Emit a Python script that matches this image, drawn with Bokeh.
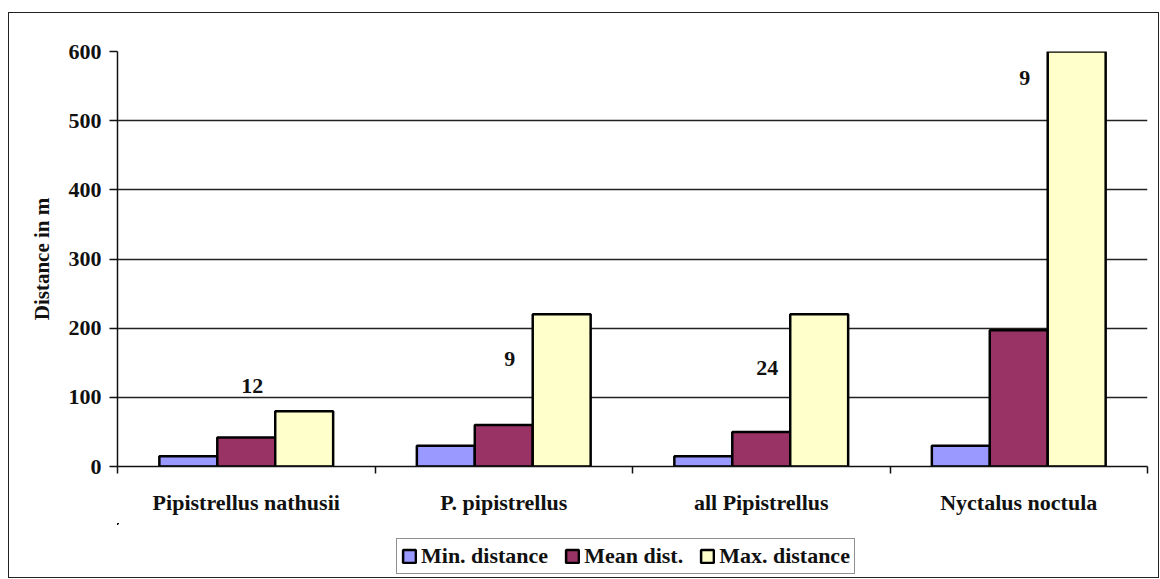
from bokeh.plotting import figure
from bokeh.layouts import column
from bokeh.models import ColumnDataSource, FixedTicker, Legend, LegendItem
from bokeh.core.properties import value
from bokeh.embed import file_html
from bokeh.resources import INLINE

categories = ["Pipistrellus nathusii", "P. pipistrellus", "all Pipistrellus", "Nyctalus noctula"]
series_names = ["Min. distance", "Mean dist.", "Max. distance"]
min_dist = [15, 30, 15, 30]
mean_dist = [42, 60, 50, 197]
max_dist = [80, 220, 220, 600]
n_labels = ["12", "9", "24", "9"]
n_label_y = [117, 155, 142, 562]
y_ticks = [0, 100, 200, 300, 400, 500, 600]
colors = ["#9999FF", "#993366", "#FFFFCC"]

FONT = "Liberation Serif"

p = figure(width=1149, height=510, output_backend="svg", toolbar_location=None,
           x_range=(0, len(categories)), y_range=(0, 600),
           min_border_left=108, min_border_top=38, min_border_bottom=57, min_border_right=11)
p.outline_line_color = None
p.background_fill_color = "white"

centers = [i + 0.5 for i in range(len(categories))]
offsets = [-0.225, 0.0, 0.225]
series = [min_dist, mean_dist, max_dist]
sources = []
for vals, off, col in zip(series, offsets, colors):
    src = ColumnDataSource(dict(x=[c + off for c in centers], top=vals))
    sources.append(src)
    p.vbar(x="x", top="top", bottom=0, width=0.225, source=src,
           fill_color=col, line_color="black", line_width=2.5)

lsrc = ColumnDataSource(dict(x=centers, y=n_label_y, t=n_labels))
p.text(x="x", y="y", text="t", source=lsrc, text_align="center", text_baseline="middle",
       x_offset=6, text_font=value(FONT), text_font_style="bold", text_font_size="22px",
       text_color="#111")

# x axis: labels at centers, ticks at boundaries
p.xaxis.ticker = FixedTicker(ticks=centers, minor_ticks=list(range(len(categories) + 1)))
p.xaxis.major_label_overrides = {c: name for c, name in zip(centers, categories)}
p.xaxis.major_tick_out = 0
p.xaxis.major_tick_in = 0
p.xaxis.minor_tick_out = 7
p.xaxis.minor_tick_in = 0
p.xaxis.minor_tick_line_color = "#111"
p.xaxis.minor_tick_line_width = 1.5
p.xaxis.axis_line_color = "#111"
p.xaxis.axis_line_width = 1.5
p.xaxis.major_label_text_font = FONT
p.xaxis.major_label_text_font_style = "bold"
p.xaxis.major_label_text_font_size = "22px"
p.xaxis.major_label_text_color = "#111"
p.xaxis.major_label_standoff = 16

p.yaxis.ticker = FixedTicker(ticks=y_ticks, minor_ticks=[])
p.yaxis.major_tick_out = 8
p.yaxis.major_tick_in = 0
p.yaxis.major_tick_line_color = "#111"
p.yaxis.major_tick_line_width = 1.5
p.yaxis.axis_line_color = "#111"
p.yaxis.axis_line_width = 1.5
p.yaxis.major_label_text_font = FONT
p.yaxis.major_label_text_font_style = "bold"
p.yaxis.major_label_text_font_size = "22px"
p.yaxis.major_label_text_color = "#111"
p.yaxis.major_label_standoff = 8
p.yaxis.axis_label = "Distance in m"
p.yaxis.axis_label_text_font = FONT
p.yaxis.axis_label_text_font_style = "bold"
p.yaxis.axis_label_text_font_size = "21px"
p.yaxis.axis_label_text_color = "#111"
p.yaxis.axis_label_standoff = 12

p.xgrid.grid_line_color = None
p.ygrid.ticker = FixedTicker(ticks=y_ticks)
p.ygrid.grid_line_color = "#222"
p.ygrid.grid_line_width = 1.5

# legend strip below the chart (its bars share the data but lie outside its view)
pl = figure(width=1149, height=54, output_backend="svg", toolbar_location=None,
            x_range=(50, 51), y_range=(-2, -1), min_border=0)
pl.axis.visible = False
pl.axis.axis_line_color = None
pl.axis.major_tick_line_color = None
pl.axis.minor_tick_line_color = None
pl.grid.visible = False
pl.outline_line_color = None
items = []
for name, col, src in zip(series_names, colors, sources):
    r = pl.vbar(x="x", top="top", bottom=0, width=0.225, source=src,
                fill_color=col, line_color="black", line_width=2.5)
    items.append(LegendItem(label=name, renderers=[r]))

legend = Legend(items=items, orientation="horizontal", location=(279, 3),
                glyph_width=16, glyph_height=16, label_standoff=4, spacing=16,
                padding=4, margin=0,
                label_text_font=FONT, label_text_font_style="bold", label_text_font_size="22px",
                label_text_color="#111", label_height=20,
                border_line_color="#222", border_line_width=1.5, background_fill_alpha=1)
pl.add_layout(legend, "center")

layout = column(p, pl, spacing=0, margin=(12, 0, 0, 8),
                styles={"border": "1.5px solid #222"})

open("out.html", "w").write(file_html(layout, INLINE))
